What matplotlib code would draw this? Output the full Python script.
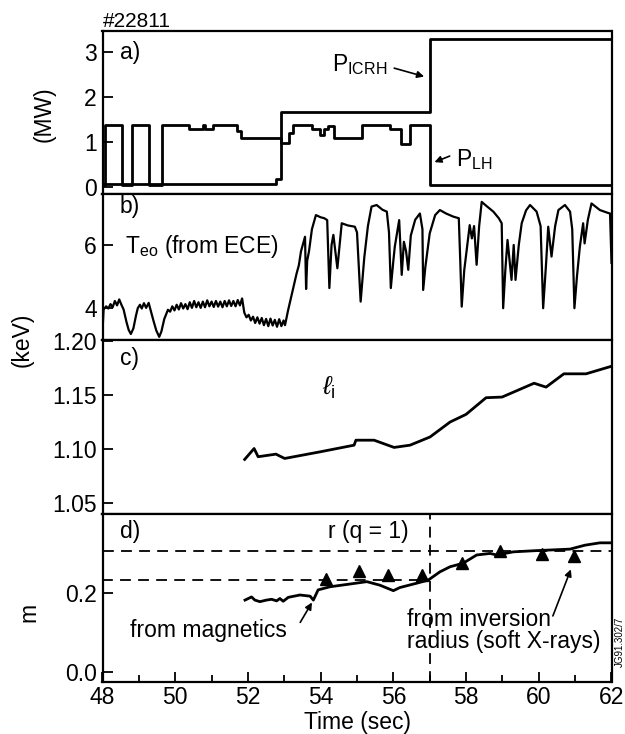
import numpy as np
import matplotlib
matplotlib.use("Agg")
import matplotlib.pyplot as plt

plt.rcParams['font.family'] = ['Liberation Sans', 'DejaVu Sans']
plt.rcParams['mathtext.fontset'] = 'custom'
plt.rcParams['mathtext.rm'] = 'Liberation Sans'
plt.rcParams['mathtext.it'] = 'Liberation Sans:italic'
plt.rcParams['font.size'] = 16.5

#%% data
# a) heating powers, step changes (time s, MW)
t_lh = [48.0, 48.07, 48.53, 48.82, 49.29, 49.64, 50.38, 50.76, 50.82, 51.03, 51.71, 51.82,
        52.92, 53.12, 53.25, 53.76, 53.98, 54.1, 54.2, 54.36, 55.14, 55.9, 56.2, 56.47, 57.0, 62.0]
p_lh = [0.05, 1.38, 0.05, 1.38, 0.05, 1.38, 1.29, 1.38, 1.29, 1.38, 1.25, 1.09,
        0.98, 1.2, 1.38, 1.30, 1.15, 1.30, 1.36, 1.09, 1.38, 1.30, 0.95, 1.38, 0.05, 0.05]
t_icrh = [48.0, 52.77, 52.9, 57.0, 62.0]
p_icrh = [0.07, 0.18, 1.67, 3.29, 3.29]

# b) central electron temperature (keV)
t_te = [48.00, 48.03, 48.10, 48.16, 48.22, 48.28, 48.34, 48.40, 48.46, 48.52, 48.58, 48.66,
        48.72, 48.78, 48.85, 48.92, 48.97, 49.03, 49.08, 49.14, 49.20, 49.27, 49.33, 49.40,
        49.48, 49.56, 49.62, 49.70, 49.80, 49.86, 49.92, 49.98, 50.04, 50.10, 50.16, 50.22,
        50.28, 50.34, 50.40, 50.46, 50.52, 50.58, 50.64, 50.70, 50.76, 50.82, 50.88, 50.94,
        51.00, 51.06, 51.12, 51.18, 51.24, 51.30, 51.36, 51.42, 51.48, 51.54, 51.60, 51.66,
        51.72, 51.78, 51.84, 51.90, 51.96, 52.02, 52.08, 52.14, 52.20, 52.26, 52.32, 52.38,
        52.44, 52.50, 52.56, 52.62, 52.68, 52.74, 52.80, 52.86, 52.92, 52.98, 53.02, 53.10,
        53.18, 53.26, 53.34, 53.40, 53.46, 53.52, 53.57, 53.60, 53.63, 53.68, 53.76, 53.87,
        54.00, 54.10, 54.18, 54.24, 54.30, 54.35, 54.46, 54.58, 54.75, 54.94, 55.00, 55.10,
        55.20, 55.30, 55.40, 55.54, 55.70, 55.82, 55.88, 55.91, 55.93, 56.00, 56.04, 56.16,
        56.23, 56.29, 56.35, 56.41, 56.48, 56.60, 56.73, 56.80, 56.82, 56.88, 57.00, 57.15,
        57.28, 57.45, 57.65, 57.80, 57.84, 57.88, 57.95, 58.10, 58.16, 58.22, 58.29, 58.36,
        58.43, 58.55, 58.75, 58.90, 58.98, 59.02, 59.08, 59.14, 59.25, 59.31, 59.36, 59.45,
        59.53, 59.65, 59.76, 59.94, 60.05, 60.12, 60.20, 60.26, 60.35, 60.45, 60.54, 60.72,
        60.86, 60.92, 60.98, 61.05, 61.13, 61.22, 61.26, 61.35, 61.45, 61.68, 61.90, 61.96,
        62.00]
te = [3.25, 3.95, 4.05, 3.98, 4.12, 4.02, 4.22, 4.08, 4.27, 4.10, 3.95, 3.55,
      3.30, 3.17, 3.35, 3.75, 3.99, 4.10, 3.98, 4.15, 4.00, 4.16, 3.90, 3.60,
      3.28, 3.08, 3.25, 3.65, 3.94, 3.88, 4.05, 3.92, 4.10, 3.95, 4.15, 3.98,
      4.12, 3.96, 4.18, 4.00, 4.22, 4.02, 4.18, 4.00, 4.20, 4.02, 4.24, 4.05,
      4.20, 4.03, 4.22, 4.04, 4.20, 4.02, 4.22, 4.05, 4.24, 4.06, 4.22, 4.05,
      4.25, 4.08, 4.30, 3.85, 3.70, 3.78, 3.60, 3.72, 3.52, 3.70, 3.50, 3.68,
      3.45, 3.65, 3.42, 3.66, 3.44, 3.62, 3.40, 3.64, 3.42, 3.60, 3.45, 3.90,
      4.30, 4.70, 5.10, 5.35, 5.80, 6.05, 6.26, 4.60, 5.50, 5.80, 6.50, 6.95,
      6.88, 6.85, 6.79, 4.63, 6.00, 6.32, 5.26, 6.69, 6.62, 6.58, 6.40, 4.20,
      5.60, 6.60, 7.22, 7.27, 7.12, 7.06, 6.40, 5.31, 4.63, 5.50, 5.95, 6.79,
      5.05, 6.10, 5.80, 5.21, 6.30, 6.80, 7.00, 6.50, 4.57, 5.30, 6.37, 6.95,
      7.11, 7.00, 6.90, 6.85, 5.50, 4.04, 5.20, 6.63, 6.21, 6.60, 5.37, 6.60,
      7.37, 7.25, 7.06, 6.85, 6.69, 3.99, 5.20, 6.16, 4.89, 6.00, 4.89, 6.00,
      6.69, 7.10, 7.27, 7.06, 6.60, 3.99, 5.40, 6.58, 5.63, 6.60, 7.11, 7.27,
      7.06, 6.50, 3.99, 5.00, 5.95, 6.69, 6.05, 6.80, 7.32, 7.11, 7.02, 7.00,
      5.43]

# c) internal inductance
t_li = [51.91, 52.17, 52.28, 52.77, 53.01, 53.98, 54.92, 54.97, 55.47, 56.02, 56.46,
        57.01, 57.56, 58.0, 58.55, 58.99, 59.87, 60.2, 60.69, 61.3, 62.0]
li = [1.0905, 1.1006, 1.093, 1.0954, 1.0914, 1.0975, 1.1037, 1.1083, 1.1083, 1.1016, 1.1037,
      1.1113, 1.1251, 1.1322, 1.1476, 1.1482, 1.161, 1.1574, 1.1697, 1.1697, 1.1767]

# d) q=1 radius (m)
t_mag = [51.92, 52.10, 52.19, 52.33, 52.51, 52.65, 52.79, 52.88, 52.97, 53.11, 53.43, 53.71,
         53.80, 53.93, 54.26, 54.81, 55.27, 55.63, 56.00, 56.18, 56.64, 56.96, 57.28, 57.56,
         57.92, 58.29, 58.66, 58.84, 59.30, 59.90, 60.86, 61.27, 61.68, 62.00]
r_mag = [0.183, 0.191, 0.183, 0.179, 0.183, 0.185, 0.181, 0.187, 0.180, 0.190, 0.196, 0.193,
         0.183, 0.209, 0.217, 0.224, 0.230, 0.221, 0.207, 0.215, 0.226, 0.234, 0.255, 0.268,
         0.277, 0.298, 0.302, 0.298, 0.306, 0.309, 0.313, 0.323, 0.329, 0.329]
t_inv = [54.15, 55.06, 55.85, 56.79, 57.89, 58.93, 60.09, 60.97]
r_inv = [0.236, 0.256, 0.248, 0.248, 0.278, 0.309, 0.300, 0.295]
r_dash_hi = 0.309
r_dash_lo = 0.234
t_sawt = 57.0

#%% figure
fig = plt.figure(figsize=(6.25, 7.34), dpi=100)
L, W = 0.164, 0.8144
ax_a = fig.add_axes([L, 0.7357, W, 0.2221])
ax_b = fig.add_axes([L, 0.5368, W, 0.1989])
ax_c = fig.add_axes([L, 0.2997, W, 0.2371])
ax_d = fig.add_axes([L, 0.0708, W, 0.2289])

for ax in [ax_a, ax_b, ax_c, ax_d]:
    ax.set_xlim(48, 62)
    for s in ax.spines.values():
        s.set_linewidth(1.6)
    ax.tick_params(axis='y', direction='in', length=7, width=1.3, pad=4, labelsize=16.5)
    ax.tick_params(axis='x', direction='in', length=7, width=1.3, labelsize=16.5)
    if ax is not ax_d:
        ax.set_xticks([])

lw = 2.0
# a)
ax_a.plot(t_lh, p_lh, c='k', lw=lw, drawstyle='steps-post')
ax_a.plot(t_icrh, p_icrh, c='k', lw=lw, drawstyle='steps-post')
ax_a.set_ylim(-0.156, 3.47)
ax_a.set_yticks([0, 1, 2, 3])
ax_a.text(48.48, 3.0, 'a)', va='center', ha='left')
ax_a.annotate('', xy=(56.92, 2.44), xytext=(55.95, 2.66),
              arrowprops=dict(arrowstyle='-|>', color='k', lw=1.2, mutation_scale=10))
ax_a.text(54.3, 2.72, r'P$_{\mathrm{ICRH}}$', va='center', ha='left')
ax_a.annotate('', xy=(57.06, 0.53), xytext=(57.62, 0.71),
              arrowprops=dict(arrowstyle='-|>', color='k', lw=1.2, mutation_scale=10))
ax_a.text(57.72, 0.62, r'P$_{\mathrm{LH}}$', va='center', ha='left')
ax_a.text(48.0, 3.47, '#22811', va='bottom', ha='left', fontsize=15)

# b)
ax_b.plot(t_te, te, c='k', lw=1.6)
ax_b.set_ylim(2.98, 7.62)
ax_b.set_yticks([4, 6])
ax_b.text(48.48, 7.22, 'b)', va='center', ha='left')
ax_b.text(48.62, 5.95, r'T$_{\mathrm{eo}}$ (from ECE)', va='center', ha='left')

# c)
ax_c.plot(t_li, li, c='k', lw=lw)
ax_c.set_ylim(1.04, 1.201)
ax_c.set_yticks([1.05, 1.10, 1.15, 1.20])
ax_c.set_yticklabels(['1.05', '1.10', '1.15', '1.20'])
ax_c.text(48.48, 1.1838, 'c)', va='center', ha='left')
ax_c.text(54.05, 1.157, r'$\ell_{\mathrm{i}}$', va='center', ha='left', fontsize=19)

# d)
ax_d.plot(t_mag, r_mag, c='k', lw=lw)
ax_d.plot(t_inv, r_inv, ls='none', marker='^', ms=9, c='k')
ax_d.axhline(r_dash_hi, c='k', lw=1.3, ls=(0, (6, 4)))
ax_d.plot([48, t_sawt], [r_dash_lo, r_dash_lo], c='k', lw=1.3, ls=(0, (6, 4)))
ax_d.axvline(t_sawt, c='k', lw=1.3, ls=(0, (6, 4)))
ax_d.set_ylim(-0.026, 0.4025)
ax_d.set_yticks([0.0, 0.2])
ax_d.set_yticklabels(['0.0', '0.2'])
ax_d.set_xticks(np.arange(48, 63, 2))
ax_d.set_xticks(np.arange(49, 62, 2), minor=True)
ax_d.tick_params(axis='x', which='minor', direction='in', length=5, width=1.3)
ax_d.tick_params(axis='x', pad=3)
ax_d.set_xlabel('Time (sec)', fontsize=16.5, labelpad=1)
ax_d.text(48.48, 0.357, 'd)', va='center', ha='left')
ax_d.text(55.3, 0.357, 'r (q = 1)', va='center', ha='center')
ax_d.text(48.76, 0.105, 'from magnetics', va='center', ha='left')
ax_d.annotate('', xy=(53.8, 0.183), xytext=(53.4, 0.12),
              arrowprops=dict(arrowstyle='-|>', color='k', lw=1.2, mutation_scale=10))
ax_d.text(56.37, 0.105, 'from inversion\nradius (soft X-rays)', va='center', ha='left',
          linespacing=0.95)
ax_d.annotate('', xy=(60.91, 0.268), xytext=(60.36, 0.136),
              arrowprops=dict(arrowstyle='-|>', color='k', lw=1.2, mutation_scale=10))

fig.text(0.07, 0.845, '(MW)', rotation=90, va='center', ha='center', fontsize=16.5)
fig.text(0.035, 0.537, '(keV)', rotation=90, va='center', ha='center', fontsize=16.5)
fig.text(0.047, 0.166, 'm', rotation=90, va='center', ha='center', fontsize=16.5)
fig.text(0.992, 0.125, 'JG91.302/7', rotation=90, va='center', ha='center', fontsize=7)

fig.savefig('out.png', dpi=100)
